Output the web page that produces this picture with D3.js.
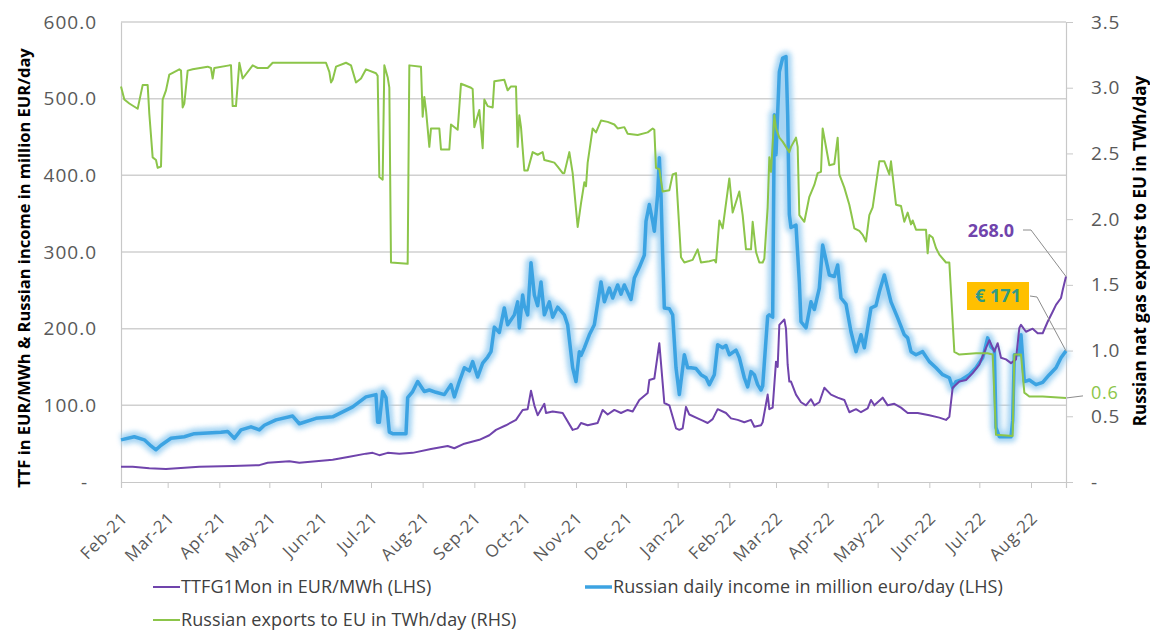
<!DOCTYPE html>
<html>
<head>
<meta charset="utf-8">
<script src="https://cdn.jsdelivr.net/npm/d3@7"></script>
<style>
  body { margin: 0; background: #fff; }
  svg { display: block; font-family: "Open Sans", sans-serif; }
</style>
</head>
<body>
<svg id="chart" width="1150" height="630"></svg>
<script>
// values

// TTF front month, EUR/MWh (left axis)
const ttfData = [["2021-02-01",20],["2021-02-08",20],["2021-02-18",18],["2021-02-28",17],["2021-03-20",20],["2021-04-09",21],["2021-04-25",22],["2021-04-30",25],["2021-05-13",27],["2021-05-19",25],["2021-06-08",29],["2021-06-18",33],["2021-06-28",37],["2021-07-02",38],["2021-07-06",35],["2021-07-11",38],["2021-07-18",37],["2021-07-26",38],["2021-08-06",43],["2021-08-16",47],["2021-08-20",44],["2021-08-26",50],["2021-09-04",55],["2021-09-10",61],["2021-09-14",68],["2021-09-20",74],["2021-09-26",81],["2021-09-30",94],["2021-10-03",95],["2021-10-05",119],["2021-10-07",100],["2021-10-09",87],["2021-10-13",102],["2021-10-14",90],["2021-10-18",92],["2021-10-24",90],["2021-10-30",68],["2021-11-02",70],["2021-11-04",77],["2021-11-08",74],["2021-11-14",77],["2021-11-17",94],["2021-11-20",88],["2021-11-24",94],["2021-11-28",90],["2021-12-02",94],["2021-12-05",92],["2021-12-09",107],["2021-12-14",116],["2021-12-15",133],["2021-12-18",135],["2021-12-21",181],["2021-12-23",129],["2021-12-24",103],["2021-12-27",100],["2021-12-31",70],["2022-01-02",68],["2022-01-04",70],["2022-01-06",98],["2022-01-08",88],["2022-01-13",83],["2022-01-16",80],["2022-01-19",77],["2022-01-22",82],["2022-01-25",95],["2022-01-30",90],["2022-02-02",83],["2022-02-06",81],["2022-02-10",78],["2022-02-14",81],["2022-02-16",72],["2022-02-20",74],["2022-02-21",78],["2022-02-24",114],["2022-02-25",95],["2022-02-27",97],["2022-03-01",157],["2022-03-02",150],["2022-03-03",205],["2022-03-06",212],["2022-03-07",200],["2022-03-08",153],["2022-03-09",131],["2022-03-10",131],["2022-03-13",114],["2022-03-16",104],["2022-03-19",100],["2022-03-22",108],["2022-03-24",100],["2022-03-27",104],["2022-03-30",123],["2022-04-03",114],["2022-04-07",110],["2022-04-11",107],["2022-04-14",91],["2022-04-18",95],["2022-04-21",91],["2022-04-25",96],["2022-04-27",107],["2022-04-29",100],["2022-05-04",110],["2022-05-07",100],["2022-05-11",102],["2022-05-15",97],["2022-05-19",90],["2022-05-25",90],["2022-06-01",87],["2022-06-07",84],["2022-06-11",81],["2022-06-13",85],["2022-06-15",123],["2022-06-19",131],["2022-06-23",133],["2022-06-27",142],["2022-07-01",153],["2022-07-05",175],["2022-07-07",185],["2022-07-10",170],["2022-07-12",181],["2022-07-14",162],["2022-07-17",160],["2022-07-20",155],["2022-07-23",160],["2022-07-25",201],["2022-07-26",205],["2022-07-29",196],["2022-08-02",200],["2022-08-05",194],["2022-08-08",194],["2022-08-11",209],["2022-08-14",222],["2022-08-16",231],["2022-08-19",240],["2022-08-20",250],["2022-08-22",268]];

// Russian daily income, million EUR/day (left axis)
const incomeData = [["2021-02-01",55],["2021-02-09",59],["2021-02-15",55],["2021-02-19",47],["2021-02-22",42],["2021-02-25",48],["2021-03-03",57],["2021-03-11",59],["2021-03-17",63],["2021-03-25",64],["2021-04-02",65],["2021-04-06",66],["2021-04-10",57],["2021-04-14",68],["2021-04-20",72],["2021-04-25",68],["2021-04-28",74],["2021-05-05",81],["2021-05-15",86],["2021-05-19",76],["2021-05-29",83],["2021-06-08",85],["2021-06-20",98],["2021-06-28",111],["2021-07-02",113],["2021-07-04",114],["2021-07-05",78],["2021-07-06",78],["2021-07-08",118],["2021-07-10",110],["2021-07-12",65],["2021-07-14",63],["2021-07-22",63],["2021-07-23",110],["2021-07-26",118],["2021-07-29",131],["2021-08-02",118],["2021-08-05",120],["2021-08-09",117],["2021-08-14",114],["2021-08-18",127],["2021-08-20",111],["2021-08-23",131],["2021-08-26",149],["2021-08-29",145],["2021-08-31",157],["2021-09-03",137],["2021-09-06",155],["2021-09-09",163],["2021-09-11",170],["2021-09-13",202],["2021-09-16",195],["2021-09-19",227],["2021-09-21",205],["2021-09-25",218],["2021-09-27",235],["2021-09-28",201],["2021-09-30",244],["2021-10-01",230],["2021-10-03",218],["2021-10-05",286],["2021-10-07",244],["2021-10-09",230],["2021-10-11",261],["2021-10-13",218],["2021-10-16",235],["2021-10-18",215],["2021-10-21",228],["2021-10-25",218],["2021-10-27",205],["2021-10-30",149],["2021-11-01",131],["2021-11-03",170],["2021-11-04",165],["2021-11-06",175],["2021-11-09",192],["2021-11-12",205],["2021-11-16",261],["2021-11-18",235],["2021-11-21",253],["2021-11-23",240],["2021-11-26",257],["2021-11-28",245],["2021-11-30",257],["2021-12-04",238],["2021-12-06",266],["2021-12-09",280],["2021-12-12",296],["2021-12-13",340],["2021-12-15",362],["2021-12-17",340],["2021-12-18",327],["2021-12-20",375],["2021-12-21",423],["2021-12-22",375],["2021-12-23",296],["2021-12-24",227],["2021-12-27",226],["2021-12-29",218],["2021-12-31",149],["2022-01-02",114],["2022-01-05",166],["2022-01-07",149],["2022-01-09",149],["2022-01-12",148],["2022-01-15",140],["2022-01-18",136],["2022-01-20",127],["2022-01-23",140],["2022-01-25",179],["2022-01-28",175],["2022-01-30",178],["2022-02-01",166],["2022-02-05",172],["2022-02-07",162],["2022-02-10",136],["2022-02-12",124],["2022-02-14",144],["2022-02-16",140],["2022-02-18",127],["2022-02-20",120],["2022-02-21",125],["2022-02-24",216],["2022-02-25",218],["2022-02-27",215],["2022-02-28",479],["2022-03-01",427],["2022-03-03",535],["2022-03-05",553],["2022-03-07",555],["2022-03-08",479],["2022-03-09",349],["2022-03-10",332],["2022-03-13",335],["2022-03-15",261],["2022-03-16",209],["2022-03-19",201],["2022-03-22",235],["2022-03-24",225],["2022-03-27",253],["2022-03-29",309],["2022-04-02",270],["2022-04-05",268],["2022-04-07",283],["2022-04-09",240],["2022-04-12",232],["2022-04-15",196],["2022-04-18",170],["2022-04-21",192],["2022-04-23",175],["2022-04-27",227],["2022-04-30",230],["2022-05-02",248],["2022-05-05",270],["2022-05-09",235],["2022-05-13",214],["2022-05-17",192],["2022-05-19",188],["2022-05-21",170],["2022-05-24",166],["2022-05-28",170],["2022-06-01",157],["2022-06-05",149],["2022-06-09",140],["2022-06-13",136],["2022-06-15",123],["2022-06-17",131],["2022-06-20",133],["2022-06-25",140],["2022-06-29",149],["2022-07-03",162],["2022-07-04",170],["2022-07-06",188],["2022-07-08",176],["2022-07-10",172],["2022-07-11",71],["2022-07-13",59],["2022-07-20",59],["2022-07-21",80],["2022-07-22",166],["2022-07-25",166],["2022-07-26",192],["2022-07-28",131],["2022-07-31",133],["2022-08-04",127],["2022-08-08",130],["2022-08-12",140],["2022-08-16",149],["2022-08-19",162],["2022-08-22",171]];

// Russian exports to EU, TWh/day (right axis)
const exportsData = [["2021-02-01",3.01],["2021-02-03",2.91],["2021-02-06",2.88],["2021-02-11",2.84],["2021-02-12",2.90],["2021-02-14",3.02],["2021-02-17",3.02],["2021-02-18",2.80],["2021-02-20",2.47],["2021-02-22",2.45],["2021-02-23",2.39],["2021-02-25",2.40],["2021-02-26",2.91],["2021-02-28",2.98],["2021-03-02",3.10],["2021-03-08",3.14],["2021-03-09",3.13],["2021-03-10",2.85],["2021-03-11",2.88],["2021-03-13",3.13],["2021-03-16",3.14],["2021-03-25",3.16],["2021-03-27",3.15],["2021-03-28",3.07],["2021-03-29",3.15],["2021-04-07",3.17],["2021-04-08",3.17],["2021-04-09",2.86],["2021-04-11",2.86],["2021-04-13",3.19],["2021-04-15",3.07],["2021-04-21",3.17],["2021-04-24",3.15],["2021-04-30",3.15],["2021-05-03",3.19],["2021-06-04",3.19],["2021-06-06",3.12],["2021-06-07",3.04],["2021-06-08",3.06],["2021-06-10",3.16],["2021-06-16",3.19],["2021-06-19",3.17],["2021-06-22",3.04],["2021-06-25",3.07],["2021-06-28",3.14],["2021-07-04",3.11],["2021-07-05",3.09],["2021-07-06",2.32],["2021-07-08",2.30],["2021-07-09",3.17],["2021-07-11",3.08],["2021-07-12",3.00],["2021-07-13",1.67],["2021-07-23",1.66],["2021-07-24",3.17],["2021-07-31",3.16],["2021-08-01",2.78],["2021-08-02",2.93],["2021-08-03",2.83],["2021-08-05",2.55],["2021-08-06",2.69],["2021-08-11",2.69],["2021-08-12",2.53],["2021-08-17",2.53],["2021-08-18",2.72],["2021-08-22",2.68],["2021-08-24",3.03],["2021-08-30",3.00],["2021-08-31",2.99],["2021-09-01",2.70],["2021-09-04",2.83],["2021-09-06",2.54],["2021-09-07",2.91],["2021-09-09",2.86],["2021-09-12",2.85],["2021-09-13",3.05],["2021-09-19",3.06],["2021-09-21",2.98],["2021-09-23",3.01],["2021-09-26",3.01],["2021-09-27",2.55],["2021-09-28",2.79],["2021-09-29",2.70],["2021-10-01",2.37],["2021-10-03",2.37],["2021-10-06",2.51],["2021-10-09",2.49],["2021-10-12",2.51],["2021-10-13",2.45],["2021-10-16",2.44],["2021-10-19",2.43],["2021-10-21",2.40],["2021-10-24",2.35],["2021-10-25",2.35],["2021-10-28",2.51],["2021-10-30",2.35],["2021-11-02",1.94],["2021-11-04",2.12],["2021-11-06",2.28],["2021-11-07",2.25],["2021-11-08",2.43],["2021-11-11",2.69],["2021-11-13",2.66],["2021-11-16",2.75],["2021-11-20",2.74],["2021-11-24",2.72],["2021-11-26",2.69],["2021-11-30",2.70],["2021-12-02",2.65],["2021-12-08",2.64],["2021-12-14",2.66],["2021-12-17",2.69],["2021-12-18",2.68],["2021-12-19",2.39],["2021-12-21",2.38],["2021-12-23",2.21],["2021-12-27",2.22],["2021-12-29",2.34],["2021-12-31",2.35],["2022-01-03",1.71],["2022-01-05",1.67],["2022-01-10",1.69],["2022-01-13",1.77],["2022-01-15",1.67],["2022-01-20",1.68],["2022-01-23",1.69],["2022-01-24",1.67],["2022-01-26",1.99],["2022-01-28",1.93],["2022-02-01",2.31],["2022-02-03",2.05],["2022-02-07",2.21],["2022-02-09",2.03],["2022-02-11",1.77],["2022-02-14",1.77],["2022-02-15",1.98],["2022-02-17",1.75],["2022-02-19",1.67],["2022-02-21",1.67],["2022-02-22",1.70],["2022-02-24",2.09],["2022-02-25",2.47],["2022-02-26",2.36],["2022-02-28",2.79],["2022-03-01",2.69],["2022-03-03",2.62],["2022-03-05",2.59],["2022-03-07",2.55],["2022-03-09",2.51],["2022-03-10",2.55],["2022-03-13",2.62],["2022-03-14",2.55],["2022-03-15",2.03],["2022-03-18",1.98],["2022-03-21",2.17],["2022-03-24",2.26],["2022-03-26",2.35],["2022-03-28",2.36],["2022-03-29",2.69],["2022-04-02",2.41],["2022-04-05",2.42],["2022-04-07",2.62],["2022-04-08",2.34],["2022-04-11",2.24],["2022-04-14",2.11],["2022-04-15",2.05],["2022-04-17",1.93],["2022-04-20",1.91],["2022-04-22",1.88],["2022-04-24",1.83],["2022-04-26",2.03],["2022-04-28",2.09],["2022-05-02",2.44],["2022-05-05",2.44],["2022-05-08",2.34],["2022-05-09",2.44],["2022-05-12",2.11],["2022-05-15",2.10],["2022-05-17",1.98],["2022-05-19",2.05],["2022-05-21",1.96],["2022-05-22",1.99],["2022-05-24",1.92],["2022-05-30",1.92],["2022-05-31",1.74],["2022-06-01",1.88],["2022-06-03",1.86],["2022-06-05",1.78],["2022-06-07",1.73],["2022-06-11",1.67],["2022-06-13",1.67],["2022-06-16",0.99],["2022-06-19",0.97],["2022-06-29",0.98],["2022-07-06",0.98],["2022-07-09",0.97],["2022-07-11",0.36],["2022-07-21",0.35],["2022-07-22",0.97],["2022-07-26",0.97],["2022-07-28",0.68],["2022-07-31",0.65],["2022-08-08",0.65],["2022-08-22",0.64]];

const monthTicks = ["2021-02-01","2021-03-01","2021-04-01","2021-05-01","2021-06-01","2021-07-01","2021-08-01","2021-09-01","2021-10-01","2021-11-01","2021-12-01","2022-01-01","2022-02-01","2022-03-01","2022-04-01","2022-05-01","2022-06-01","2022-07-01","2022-08-01"];
const leftTicks = [0, 100, 200, 300, 400, 500, 600];
const rightTicks = [0, 0.5, 1, 1.5, 2, 2.5, 3, 3.5];
const legendItems = [
  { label: "TTFG1Mon in EUR/MWh (LHS)", color: "#7044ac" },
  { label: "Russian daily income in million euro/day (LHS)", color: "#3ca3e2" },
  { label: "Russian exports to EU in TWh/day (RHS)", color: "#8cc54a" }
];

const parse = d3.utcParse("%Y-%m-%d");
const toPoints = (arr) => arr.map((d) => ({ date: parse(d[0]), value: d[1] }));
const ttf = toPoints(ttfData);
const income = toPoints(incomeData);
const exportsEU = toPoints(exportsData);

var svg = d3.select("#chart");
const plotLeft = 121, plotRight = 1066, plotTop = 22, plotBottom = 482;

const x = d3.scaleUtc()
  .domain([parse("2021-02-01"), parse("2022-08-22")])
  .range([plotLeft, plotRight]);
const yL = d3.scaleLinear().domain([0, 600]).range([plotBottom, plotTop]);
const yR = d3.scaleLinear().domain([0, 3.5]).range([plotBottom, plotTop]);

// glow for the income line
var defs = svg.append("defs");
var glow = defs.append("filter").attr("id", "glow")
  .attr("x", "-5%").attr("y", "-5%").attr("width", "110%").attr("height", "110%");
glow.append("feGaussianBlur").attr("stdDeviation", 2.5);

// gridlines
svg.append("g")
  .selectAll("line")
  .data(leftTicks.filter((t) => t > 0))
  .join("line")
  .attr("x1", plotLeft).attr("x2", plotRight)
  .attr("y1", (d) => yL(d)).attr("y2", (d) => yL(d))
  .attr("stroke", "#d0d0d0")
  .attr("stroke-width", 1.5);

// left axis
var gLeft = svg.append("g")
  .attr("transform", `translate(${plotLeft},0)`)
  .call(d3.axisLeft(yL).tickValues(leftTicks).tickSize(0).tickPadding(24)
    .tickFormat((d) => (d === 0 ? "-" : d.toFixed(1))));
gLeft.select(".domain").attr("stroke", "#c8c8c8").attr("stroke-width", 1.2);
gLeft.selectAll("text")
  .attr("fill", "#595959")
  .style("font-size", "19px")
  .style("letter-spacing", "1px")
  .style("font-family", "Open Sans")
  .attr("dx", (d) => (d === 0 ? -9 : 0));

// right axis
var gRight = svg.append("g")
  .attr("transform", `translate(${plotRight},0)`)
  .call(d3.axisRight(yR).tickValues(rightTicks).tickSize(7).tickPadding(18)
    .tickFormat((d) => (d === 0 ? "-" : d.toFixed(1))));
gRight.select(".domain").attr("stroke", "#c8c8c8").attr("stroke-width", 1.2);
gRight.selectAll(".tick line").attr("stroke", "#c8c8c8");
gRight.selectAll("text")
  .attr("fill", "#595959")
  .style("font-size", "19px")
  .style("letter-spacing", "0.8px")
  .style("font-family", "Open Sans");

// bottom axis
var gBottom = svg.append("g")
  .attr("transform", `translate(0,${plotBottom})`)
  .call(d3.axisBottom(x).tickValues(monthTicks.map(parse)).tickSize(6)
    .tickFormat(d3.utcFormat("%b-%y")));
gBottom.select(".domain").attr("stroke", "#c8c8c8").attr("stroke-width", 1.2);
gBottom.selectAll(".tick line").attr("stroke", "#c8c8c8");
gBottom.selectAll("text")
  .attr("x", 0).attr("y", 0).attr("dy", "0.35em")
  .attr("transform", "translate(3,33) rotate(-45)")
  .style("text-anchor", "end")
  .attr("fill", "#595959")
  .style("font-size", "17px")
  .style("letter-spacing", "0.8px")
  .style("font-family", "Open Sans");

// series
var lineL = d3.line().x((d) => x(d.date)).y((d) => yL(d.value));
var lineR = d3.line().x((d) => x(d.date)).y((d) => yR(d.value));

svg.append("path")
  .datum(income)
  .attr("d", lineL)
  .attr("fill", "none")
  .attr("stroke", "#9dd0f2")
  .attr("stroke-width", 11)
  .attr("stroke-linejoin", "round")
  .attr("opacity", 0.9)
  .style("filter", "url(#glow)");

svg.append("path")
  .datum(income)
  .attr("d", lineL)
  .attr("fill", "none")
  .attr("stroke", "#3ca3e2")
  .attr("stroke-width", 3.5)
  .attr("stroke-linejoin", "round");

svg.append("path")
  .datum(ttf)
  .attr("d", lineL)
  .attr("fill", "none")
  .attr("stroke", "#7044ac")
  .attr("stroke-width", 2)
  .attr("stroke-linejoin", "round");

svg.append("path")
  .datum(exportsEU)
  .attr("d", lineR)
  .attr("fill", "none")
  .attr("stroke", "#8cc54a")
  .attr("stroke-width", 2)
  .attr("stroke-linejoin", "round");

// end labels
const lastTtf = ttf[ttf.length - 1];
const lastIncome = income[income.length - 1];
const lastExports = exportsEU[exportsEU.length - 1];

svg.append("path")
  .attr("d", `M1023,230 L1031,230 L${x(lastTtf.date)},${yL(lastTtf.value)}`)
  .attr("fill", "none").attr("stroke", "#8c8c8c").attr("stroke-width", 1);
svg.append("rect")
  .attr("x", 961).attr("y", 219).attr("width", 60).attr("height", 24)
  .attr("fill", "#fff");
svg.append("text")
  .attr("x", 991).attr("y", 231).attr("dy", "0.35em")
  .attr("text-anchor", "middle")
  .attr("fill", "#7044ac")
  .style("font-size", "18px").style("font-weight", "bold")
  .text(lastTtf.value.toFixed(1));

svg.append("path")
  .attr("d", `M1030,296 L1037,297 L${x(lastIncome.date)},${yL(lastIncome.value)}`)
  .attr("fill", "none").attr("stroke", "#8c8c8c").attr("stroke-width", 1);
svg.append("rect")
  .attr("x", 967).attr("y", 282).attr("width", 62).attr("height", 28)
  .attr("fill", "#ffc000");
svg.append("text")
  .attr("x", 998).attr("y", 296).attr("dy", "0.35em")
  .attr("text-anchor", "middle")
  .attr("fill", "#2f9a86")
  .style("font-size", "18px").style("font-weight", "bold")
  .text("€ " + lastIncome.value);

svg.append("path")
  .attr("d", `M${plotRight + 1},${yR(lastExports.value)} L1083,${yR(lastExports.value) - 2}`)
  .attr("fill", "none").attr("stroke", "#8c8c8c").attr("stroke-width", 1);
svg.append("text")
  .attr("x", 1091).attr("y", yR(lastExports.value) - 5).attr("dy", "0.35em")
  .attr("fill", "#8cc54a")
  .style("font-size", "18px")
  .style("letter-spacing", "0.8px")
  .text(lastExports.value.toFixed(1));

// axis titles
svg.append("text")
  .attr("transform", "translate(30,268) rotate(-90)")
  .attr("text-anchor", "middle")
  .attr("fill", "#000")
  .style("font-size", "16.5px").style("font-weight", "bold")
  .text("TTF in EUR/MWh & Russian income in million EUR/day");

svg.append("text")
  .attr("transform", "translate(1146,251) rotate(-90)")
  .attr("text-anchor", "middle")
  .attr("fill", "#000")
  .style("font-size", "17px").style("font-weight", "bold")
  .text("Russian nat gas exports to EU in TWh/day");

// legend
const legendPos = [[153, 587], [585, 587], [153, 620]];
var legend = svg.append("g")
  .selectAll("g")
  .data(legendItems)
  .join("g")
  .attr("transform", (d, i) => `translate(${legendPos[i][0]},${legendPos[i][1]})`);
legend.append("line")
  .attr("x1", 0).attr("x2", 27)
  .attr("stroke", (d) => d.color)
  .attr("stroke-width", (d, i) => (i === 1 ? 3.5 : 2));
legend.append("text")
  .attr("x", 28).attr("dy", "0.35em")
  .attr("fill", "#404040")
  .style("font-size", "18px")
  .style("letter-spacing", "0.1px")
  .text((d) => d.label);
</script>
</body>
</html>
